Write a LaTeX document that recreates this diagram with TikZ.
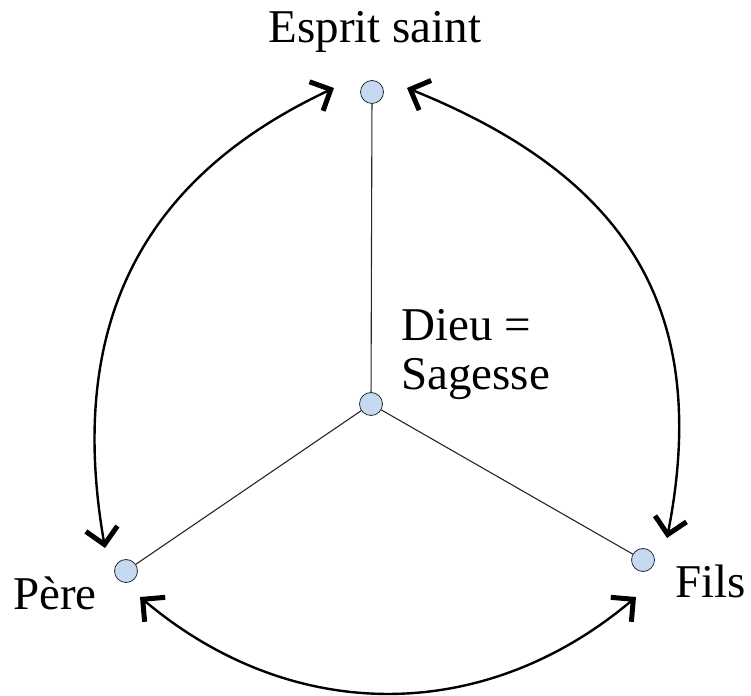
\documentclass[tikz,border=0pt]{standalone}
\usepackage{fontspec}
\setmainfont{Liberation Serif}
\usetikzlibrary{arrows.meta,calc}
\definecolor{nodefill}{RGB}{198,217,240}
\definecolor{nodeline}{RGB}{40,45,55}
\begin{document}
\begin{tikzpicture}[x=1pt,y=1pt,
  dot/.style={circle,draw=nodeline,line width=0.8pt,fill=nodefill,minimum size=23pt,inner sep=0pt},
  spoke/.style={draw=black!85,line width=1.1pt},
  barb/.tip={Straight Barb[length=16pt,width=32pt,line width=5pt]},
  dual/.style={line width=2.4pt,arrows={barb-barb}},
  lab/.style={font=\fontsize{47}{49}\selectfont,inner sep=0pt,anchor=base west}]
\useasboundingbox (0,0) rectangle (751,695);
\node[dot] (E) at (372,603) {};
\node[dot] (C) at (371,291) {};
\node[dot] (P) at (126,124) {};
\node[dot] (F) at (643,135) {};
\draw[spoke] (E) -- (C);
\draw[spoke] (C) -- (P);
\draw[spoke] (C) -- (F);
\coordinate (EL) at ($(E)+(-38,4)$);
\coordinate (ER) at ($(E)+(35,4)$);
\coordinate (PT) at ($(P)+(-21,23)$);
\coordinate (PB) at ($(P)+(14,-26)$);
\coordinate (FT) at ($(F)+(24,22)$);
\coordinate (FB) at ($(F)+(-7,-37)$);
\draw[dual] (EL) .. controls (153,522) and (64,383) .. (PT);
\draw[dual] (ER) .. controls (620,521) and (713,392) .. (FT);
\draw[dual] (PB) .. controls (292,-30) and (484,-30) .. (FB);
\node[lab,anchor=base] (te) at (375,652) {Esprit saint};
\node[lab,align=left] (tc) at (401,305) {Dieu =\\Sagesse};
\node[lab] (tp) at (13,85) {Père};
\node[lab] (tf) at (675,97) {Fils};
\end{tikzpicture}
\end{document}
